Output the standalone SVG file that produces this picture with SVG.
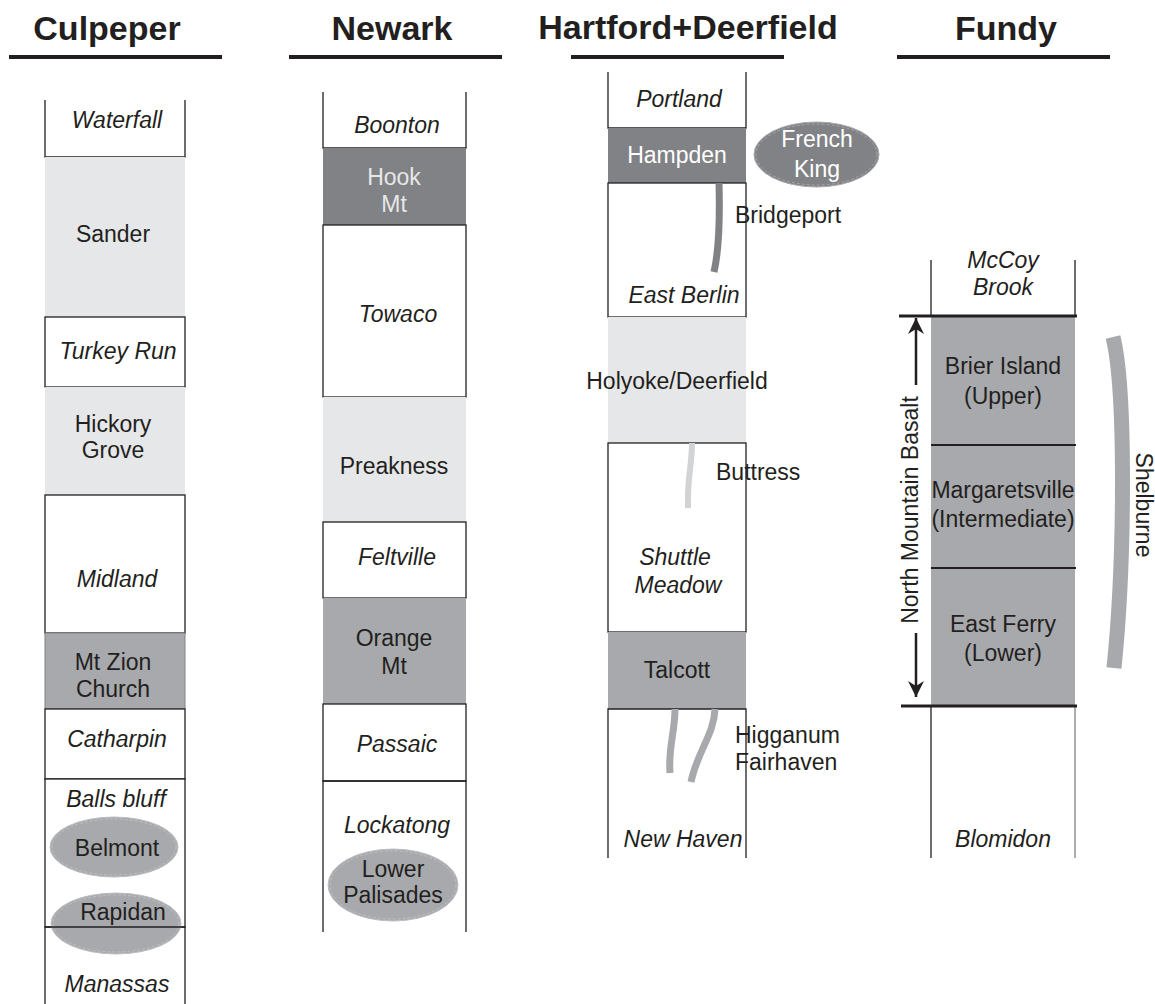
<svg xmlns="http://www.w3.org/2000/svg" width="1155" height="1004" viewBox="0 0 1155 1004">
<defs>
<style>
.t{font-family:"Liberation Sans",Arial,Helvetica,sans-serif;font-size:23px;fill:#231f20;text-anchor:middle}
.i{font-style:italic}
.s{text-anchor:start}
.w{fill:#ffffff}
.ttl{font-family:"Liberation Sans",Arial,Helvetica,sans-serif;font-size:34px;font-weight:bold;fill:#231f20;text-anchor:middle}
.ul{stroke:#231f20;stroke-width:4}
.box{fill:#ffffff;stroke:#231f20;stroke-width:1.3}
.side{fill:none;stroke:#231f20;stroke-width:1.3}
.lt{fill:#e6e7e8}
.md{fill:#a7a9ac}
.dk{fill:#808285}
.ell{fill:#a7a9ac;stroke:#bcbec0;stroke-width:1}
.ein{fill:none;stroke:#e6e7e8;stroke-width:0.6;stroke-dasharray:3 2;opacity:0.6}
.thick{stroke:#231f20;stroke-width:3}
.mid{stroke:#231f20;stroke-width:2}
.intr{fill:none;stroke-linecap:butt}
</style>
<marker id="ah" viewBox="0 0 16 16" refX="16" refY="8" markerWidth="16" markerHeight="16" markerUnits="userSpaceOnUse" orient="auto">
<path d="M0,0 L16,8 L0,16 L5,8 Z" fill="#231f20"/>
</marker>
</defs>
<rect width="1155" height="1004" fill="#ffffff"/>

<g id="titles">
<text class="ttl" x="107" y="40">Culpeper</text>
<line class="ul" x1="9" y1="57" x2="222" y2="57"/>
<text class="ttl" x="392" y="40">Newark</text>
<line class="ul" x1="289" y1="57" x2="502" y2="57"/>
<text class="ttl" x="688" y="39">Hartford+Deerfield</text>
<line class="ul" x1="571" y1="57" x2="784" y2="57"/>
<text class="ttl" x="1006" y="40">Fundy</text>
<line class="ul" x1="897" y1="57" x2="1110" y2="57"/>
</g>

<!-- Culpeper -->
<g id="culpeper">
<g id="waterfall"><rect x="45" y="100" width="140" height="57" fill="#fff"/><path class="side" d="M45,100 V157 H185 V100"/><text class="t i" x="117" y="128">Waterfall</text></g>
<g id="sander"><rect class="lt" x="45" y="157" width="140" height="160"/><text class="t" x="113" y="242">Sander</text></g>
<g id="turkey-run"><rect class="box" x="45" y="317" width="140" height="70"/><text class="t i" x="118" y="359">Turkey Run</text></g>
<g id="hickory-grove"><rect class="lt" x="45" y="387" width="140" height="108"/><text class="t" x="113" y="432">Hickory</text><text class="t" x="113" y="458">Grove</text></g>
<g id="midland"><rect class="box" x="45" y="495" width="140" height="138"/><text class="t i" x="117" y="587">Midland</text></g>
<g id="mt-zion-church"><rect class="md" x="45" y="633" width="140" height="76" stroke="#808285" stroke-width="1"/><text class="t" x="113" y="670">Mt Zion</text><text class="t" x="113" y="697">Church</text></g>
<g id="catharpin"><rect class="box" x="45" y="709" width="140" height="70"/><text class="t i" x="117" y="747">Catharpin</text></g>
<g id="balls-bluff"><rect class="box" x="45" y="779" width="140" height="148"/><text class="t i" x="116" y="807">Balls bluff</text></g>
<g id="belmont"><ellipse class="ell" cx="114" cy="847" rx="64" ry="30"/><ellipse class="ein" cx="114" cy="847" rx="62" ry="28"/><text class="t" x="117" y="856">Belmont</text></g>
<g id="rapidan"><ellipse class="ell" cx="116" cy="923.5" rx="65" ry="30.5"/><ellipse class="ein" cx="116" cy="923.5" rx="63" ry="28.5"/><text class="t" x="123" y="920">Rapidan</text></g>
<g id="manassas"><path class="side" d="M45,1004 V927 H185 V1004"/><text class="t i" x="117" y="992">Manassas</text></g>
</g>

<!-- Newark -->
<g id="newark">
<g id="boonton"><path class="side" d="M323,92 V148 H466 V92"/><text class="t i" x="397" y="133">Boonton</text></g>
<g id="hook-mt"><rect class="dk" x="323" y="148" width="143" height="77"/><text class="t" x="394" y="185" style="fill:#e6e7e8">Hook</text><text class="t" x="394" y="212" style="fill:#e6e7e8">Mt</text></g>
<g id="towaco"><rect class="box" x="323" y="225" width="143" height="172"/><text class="t i" x="398" y="322">Towaco</text></g>
<g id="preakness"><rect class="lt" x="323" y="397" width="143" height="125"/><text class="t" x="394" y="474">Preakness</text></g>
<g id="feltville"><rect class="box" x="323" y="522" width="143" height="76"/><text class="t i" x="397" y="565">Feltville</text></g>
<g id="orange-mt"><rect class="md" x="323" y="598" width="143" height="106"/><text class="t" x="394" y="646">Orange</text><text class="t" x="394" y="674">Mt</text></g>
<g id="passaic"><rect class="box" x="323" y="704" width="143" height="77"/><text class="t i" x="397" y="752">Passaic</text></g>
<g id="lockatong"><path class="side" d="M323,932 V781 H466 V932"/><text class="t i" x="397" y="833">Lockatong</text></g>
<g id="lower-palisades"><ellipse class="ell" cx="393" cy="885" rx="65" ry="36"/><ellipse class="ein" cx="393" cy="885" rx="63" ry="34"/><text class="t" x="393" y="877">Lower</text><text class="t" x="393" y="903">Palisades</text></g>
</g>

<!-- Hartford -->
<g id="hartford">
<g id="portland"><path class="side" d="M608,72 V128 H746 V72"/><text class="t i" x="679" y="107">Portland</text></g>
<g id="hampden"><rect class="dk" x="608" y="128" width="138" height="55"/><text class="t w" x="677" y="163">Hampden</text></g>
<g id="east-berlin"><rect class="box" x="608" y="183" width="138" height="134"/><text class="t i" x="684" y="303">East Berlin</text></g>
<g id="holyoke"><rect class="lt" x="608" y="317" width="138" height="126"/><text class="t" x="677" y="389">Holyoke/Deerfield</text></g>
<g id="shuttle-meadow"><rect class="box" x="608" y="443" width="138" height="189"/><text class="t i" x="675" y="565">Shuttle</text><text class="t i" x="678" y="593">Meadow</text></g>
<g id="talcott"><rect class="md" x="608" y="632" width="138" height="77"/><text class="t" x="677" y="678">Talcott</text></g>
<g id="new-haven"><path class="side" d="M608,858 V709 H746 V858"/><text class="t i" x="683" y="847">New Haven</text></g>
<g id="french-king"><ellipse cx="816.5" cy="154.5" rx="62.5" ry="32.5" fill="#808285" stroke="#a7a9ac" stroke-width="1"/><ellipse class="ein" cx="816.5" cy="154.5" rx="60.5" ry="30.5"/><text class="t w" x="817" y="147">French</text><text class="t w" x="817" y="177">King</text></g>
</g>

<!-- Fundy -->
<g id="fundy">
<g id="mccoy-brook"><path class="side" d="M931,260 V316 M1075,260 V316" stroke="#414042"/><text class="t i" x="1003" y="268">McCoy</text><text class="t i" x="1003" y="295">Brook</text></g>
<g id="brier-island"><rect class="md" x="931" y="316" width="144" height="129"/><text class="t" x="1003" y="374">Brier Island</text><text class="t" x="1003" y="404">(Upper)</text></g>
<g id="margaretsville"><rect class="md" x="931" y="445" width="144" height="123"/><text class="t" x="1003" y="498">Margaretsville</text><text class="t" x="1003" y="527">(Intermediate)</text></g>
<g id="east-ferry"><rect class="md" x="931" y="568" width="144" height="138"/><text class="t" x="1003" y="632">East Ferry</text><text class="t" x="1003" y="661">(Lower)</text></g>
<g id="blomidon"><path class="side" d="M931,706 V858"/><path d="M1075,706 V858" fill="none" stroke="#808285" stroke-width="1.3"/><text class="t i" x="1003" y="847">Blomidon</text></g>
<line class="thick" x1="899" y1="316" x2="1077" y2="316"/>
<line class="mid" x1="931" y1="445" x2="1076" y2="445"/>
<line class="mid" x1="931" y1="568" x2="1076" y2="568"/>
<line class="thick" x1="901" y1="706" x2="1077" y2="706"/>
</g>

<g id="connectors">
<path class="intr" d="M719,183 C720,220 719,250 714,272" stroke="#808285" stroke-width="7"/>
<path class="intr" d="M692,443 C692,465 687,478 688,508" stroke="#d1d3d4" stroke-width="6"/>
<path class="intr" d="M675,709 C675,732 668,748 670,773" stroke="#a7a9ac" stroke-width="7"/>
<path class="intr" d="M715,709 C714,735 697,752 691,782" stroke="#a7a9ac" stroke-width="7"/>
<path class="intr" d="M1113,337 C1126,390 1125,560 1114,668" stroke="#a7a9ac" stroke-width="15"/>
<line x1="916" y1="385" x2="916" y2="318" stroke="#231f20" stroke-width="2.5" marker-end="url(#ah)"/>
<line x1="916" y1="633" x2="916" y2="697" stroke="#231f20" stroke-width="2.5" marker-end="url(#ah)"/>
</g>

<g id="labels">
<text class="t s" x="735" y="223">Bridgeport</text>
<text class="t s" x="716" y="480">Buttress</text>
<text class="t s" x="735" y="743">Higganum</text>
<text class="t s" x="735" y="770">Fairhaven</text>
<text class="t" transform="translate(918,510) rotate(-90)">North Mountain Basalt</text>
<text class="t" transform="translate(1136,505) rotate(90)">Shelburne</text>
</g>
</svg>
